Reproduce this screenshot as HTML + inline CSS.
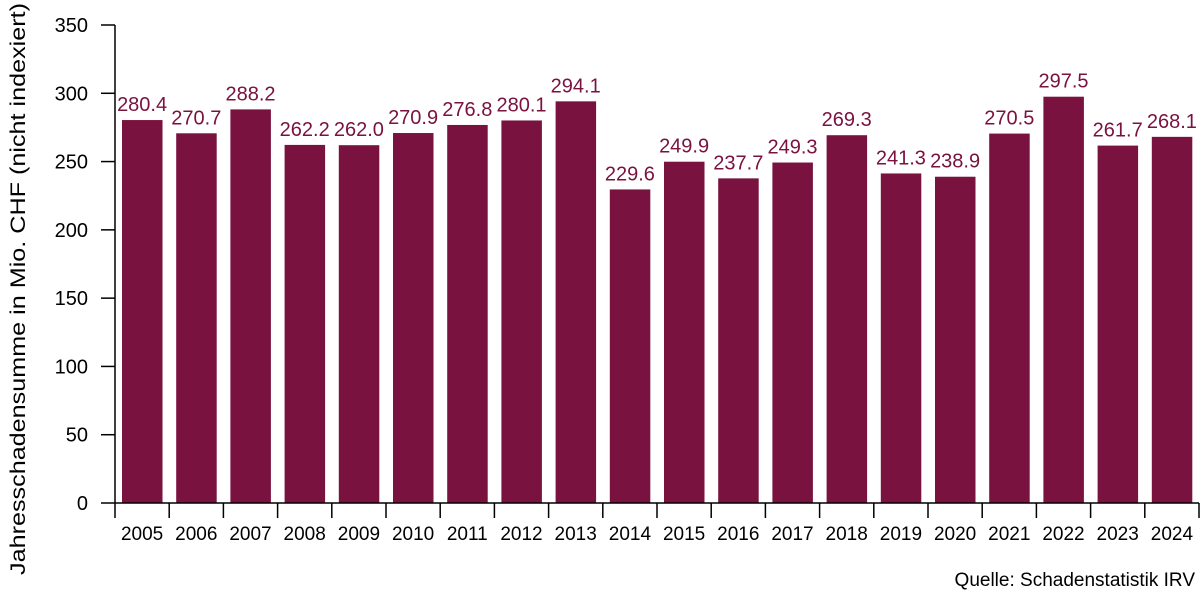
<!DOCTYPE html>
<html><head><meta charset="utf-8"><style>body{margin:0;background:#fff}svg{display:block}text{font-family:"Liberation Sans",Arial,sans-serif}</style></head>
<body>
<svg width="1200" height="593" viewBox="0 0 1200 593" xmlns="http://www.w3.org/2000/svg">
<g id="bars" fill="#79123f"></g>
<g id="vals" fill="#79123f" font-size="20" text-anchor="middle"></g>
<g stroke="#000" stroke-width="1.5" fill="none" id="axes">
<line x1="115" y1="25" x2="115" y2="503"/>
<line x1="115" y1="503" x2="1199" y2="503"/>
</g>
<g id="yt" font-size="20" text-anchor="end" fill="#000"></g>
<g id="xt" font-size="19" text-anchor="middle" fill="#000"></g>
<text transform="translate(25,289) rotate(-90)" font-size="21" text-anchor="middle" textLength="572" lengthAdjust="spacingAndGlyphs">Jahresschadensumme in Mio. CHF (nicht indexiert)</text>
<text x="1195" y="586" font-size="19" text-anchor="end">Quelle: Schadenstatistik IRV</text>
</svg>
<script>
const v=[280.4,270.7,288.2,262.2,262.0,270.9,276.8,280.1,294.1,229.6,249.9,237.7,249.3,269.3,241.3,238.9,270.5,297.5,261.7,268.1];
const ns="http://www.w3.org/2000/svg";
const k=478/350,w=54.2,x0=115,y0=503;
function el(p,t,a,txt){const e=document.createElementNS(ns,t);for(const q in a)e.setAttribute(q,a[q]);if(txt!=null)e.textContent=txt;document.getElementById(p).appendChild(e);}
v.forEach((d,i)=>{const x=x0+i*w,h=d*k;
el('bars','rect',{x:x+7,y:y0-h,width:40.5,height:h});
el('vals','text',{x:x+w/2,y:y0-h-9},d.toFixed(1));
el('xt','text',{x:x+w/2,y:540},String(2005+i));
el('axes','line',{x1:x+w,y1:503,x2:x+w,y2:518});});
el('axes','line',{x1:115,y1:503,x2:115,y2:518});
for(let j=0;j<=7;j++){const y=y0-j*50*k;el('axes','line',{x1:101,y1:y,x2:115,y2:y});el('yt','text',{x:88,y:y+7},String(j*50));}
</script>
</body></html>
